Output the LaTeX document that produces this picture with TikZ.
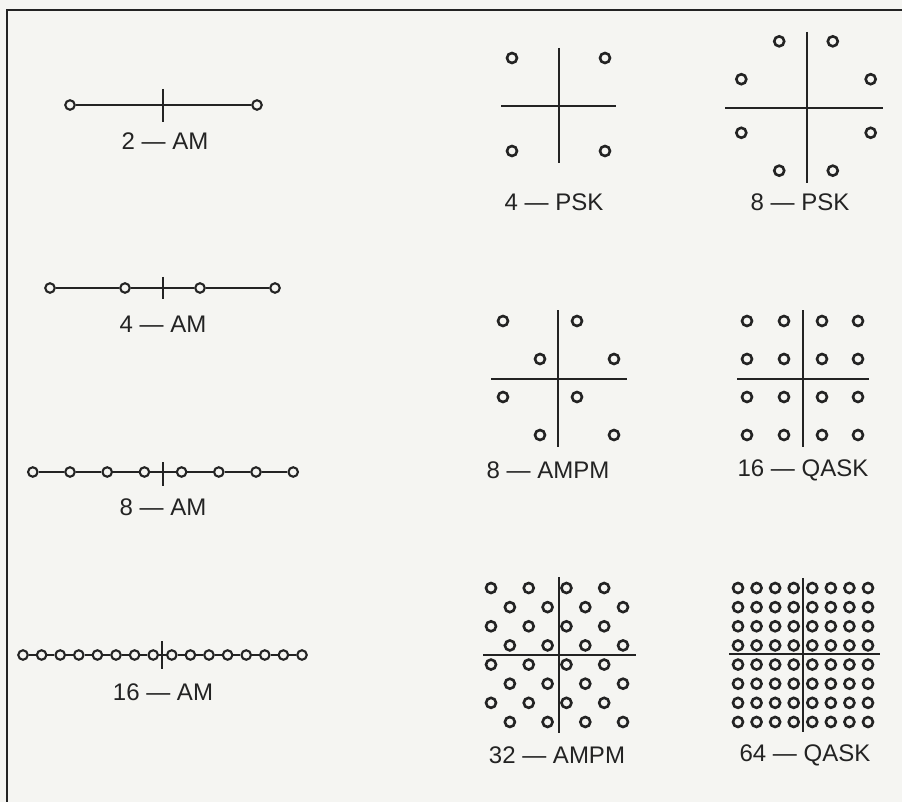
\documentclass[tikz,border=0pt]{standalone}
\usepackage{fontspec}
\setmainfont{Liberation Sans}
\usetikzlibrary{calc}
\definecolor{paper}{RGB}{245,245,242}
\definecolor{ink}{RGB}{35,35,35}

\begin{document}
\begin{tikzpicture}[x=1pt,y=-1pt,
  dot/.style={circle,draw=ink,inner sep=0pt,minimum size=10pt,line width=2.6pt},
  amdot/.style={dot,minimum size=9.5pt,line width=2.1pt},
  ax/.style={draw=ink,line width=1.8pt},
  lab/.style={text=ink,font=\fontsize{24}{28}\selectfont}]
\fill[paper] (0,0) rectangle (902,802);
\useasboundingbox (0,0) rectangle (902,802);
\draw[ink,line width=2.5pt] (7,802) -- (7,10) -- (902,10);

% 2-AM
\node[amdot] (am2-0) at (70,105) {};
\node[amdot] (am2-1) at (257,105) {};
\draw[ax] (am2-0) -- (am2-1);
\coordinate (am2u) at (163,89);
\coordinate (am2d) at (163,122);
\draw[ax] (am2u) -- (am2d);
\node[lab] (l-am2) at (165,141) {2 — AM};

% 4-AM
\foreach \i in {0,...,3}
  \node[amdot] (am4-\i) at ({50+75*\i},288) {};
\foreach \i [remember=\i as \p (initially 0)] in {1,...,3}
  \draw[ax] (am4-\p) -- (am4-\i);
\coordinate (am4u) at (163,277);
\coordinate (am4d) at (163,299);
\draw[ax] (am4u) -- (am4d);
\node[lab] (l-am4) at (163,324) {4 — AM};

% 8-AM
\foreach \i in {0,...,7}
  \node[amdot] (am8-\i) at ({163+(\i-3.5)*37.2},472) {};
\foreach \i [remember=\i as \p (initially 0)] in {1,...,7}
  \draw[ax] (am8-\p) -- (am8-\i);
\coordinate (am8u) at (163,462);
\coordinate (am8d) at (163,486);
\draw[ax] (am8u) -- (am8d);
\node[lab] (l-am8) at (163,507) {8 — AM};

% 16-AM
\foreach \i in {0,...,15}
  \node[amdot] (am16-\i) at ({162.5+(\i-7.5)*18.6},655) {};
\foreach \i [remember=\i as \p (initially 0)] in {1,...,15}
  \draw[ax] (am16-\p) -- (am16-\i);
\coordinate (am16u) at (162,641);
\coordinate (am16d) at (162,669);
\draw[ax] (am16u) -- (am16d);
\node[lab] (l-am16) at (163,692) {16 — AM};

% 4-PSK
\node[dot] (psk4-0) at (512,58) {};
\node[dot] (psk4-1) at (605,58) {};
\node[dot] (psk4-2) at (512,151) {};
\node[dot] (psk4-3) at (605,151) {};
\coordinate (psk4l) at (501,106);
\coordinate (psk4r) at (616,106);
\coordinate (psk4t) at (559,48);
\coordinate (psk4b) at (559,163);
\draw[ax] (psk4l) -- (psk4r);
\draw[ax,line width=2.8pt] (psk4t) -- (psk4b);
\node[lab] (l-psk4) at (554,202) {4 — PSK};

% 8-PSK
\foreach \k in {0,...,7}
  \node[dot] (psk8-\k) at ($(806,106)+({22.5+45*\k}:70)$) {};
\coordinate (psk8l) at (725,108);
\coordinate (psk8r) at (883,108);
\coordinate (psk8t) at (807,32);
\coordinate (psk8b) at (807,183);
\draw[ax] (psk8l) -- (psk8r);
\draw[ax] (psk8t) -- (psk8b);
\node[lab] (l-psk8) at (800,202) {8 — PSK};

% 8-AMPM
\foreach \r/\y in {0/321,1/359,2/397,3/435}
  \foreach \c in {0,2}{
    \pgfmathsetmacro\cc{\c+mod(\r,2)}
    \node[dot] (ampm8-\r-\c) at ({503+37*\cc},\y) {};
  }
\coordinate (ampm8l) at (491,379);
\coordinate (ampm8r) at (627,379);
\coordinate (ampm8t) at (558,310);
\coordinate (ampm8b) at (558,447);
\draw[ax] (ampm8l) -- (ampm8r);
\draw[ax] (ampm8t) -- (ampm8b);
\node[lab] (l-ampm8) at (548,470) {8 — AMPM};

% 16-QASK
\foreach \r/\y in {0/321,1/359,2/397,3/435}
  \foreach \c/\x in {0/747,1/784,2/822,3/858}
    \node[dot] (qask16-\r-\c) at (\x,\y) {};
\coordinate (qask16l) at (737,379);
\coordinate (qask16r) at (869,379);
\coordinate (qask16t) at (803,310);
\coordinate (qask16b) at (803,447);
\draw[ax] (qask16l) -- (qask16r);
\draw[ax] (qask16t) -- (qask16b);
\node[lab] (l-qask16) at (803,470) {16 — QASK};

% 32-AMPM
\foreach \r in {0,...,7}
  \foreach \c in {0,2,4,6}{
    \pgfmathsetmacro\cc{\c+mod(\r,2)}
    \node[dot] (ampm32-\r-\c) at ({491+18.86*\cc},{588+19.14*\r}) {};
  }
\coordinate (ampm32l) at (483,655);
\coordinate (ampm32r) at (636,655);
\coordinate (ampm32t) at (559,577);
\coordinate (ampm32b) at (559,733);
\draw[ax] (ampm32l) -- (ampm32r);
\draw[ax] (ampm32t) -- (ampm32b);
\node[lab] (l-ampm32) at (557,755) {32 — AMPM};

% 64-QASK
\foreach \r in {0,...,7}
  \foreach \c in {0,...,7}
    \node[dot] (qask64-\r-\c) at ({738+18.57*\c},{588+19.14*\r}) {};
\coordinate (qask64l) at (729,654);
\coordinate (qask64r) at (880,654);
\coordinate (qask64t) at (803,578);
\coordinate (qask64b) at (803,732);
\draw[ax] (qask64l) -- (qask64r);
\draw[ax] (qask64t) -- (qask64b);
\node[lab] (l-qask64) at (805,755) {64 — QASK};
\end{tikzpicture}
\end{document}
